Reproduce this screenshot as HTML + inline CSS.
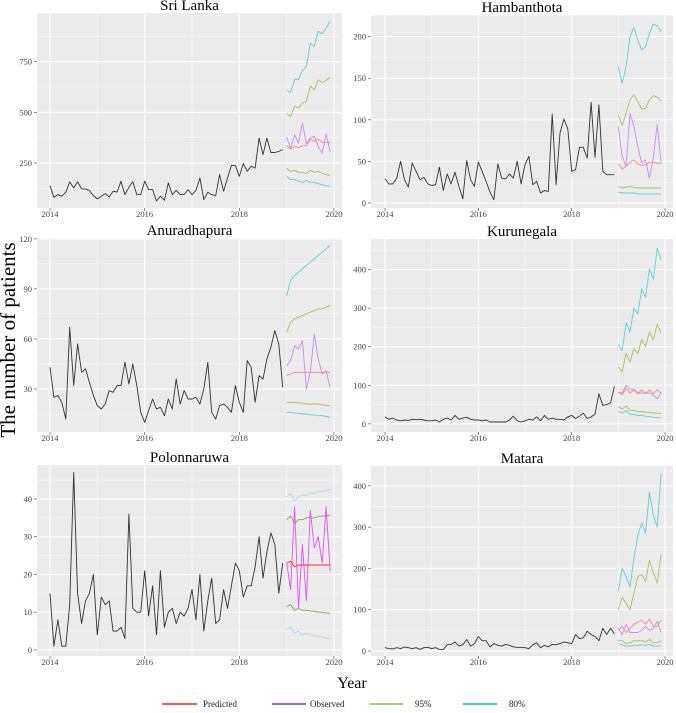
<!DOCTYPE html>
<html><head><meta charset="utf-8">
<style>
html,body{margin:0;padding:0;background:#fff;}
svg{display:block;font-family:"Liberation Serif",serif;}
</style></head>
<body>
<svg id="chart" width="676" height="713" viewBox="0 0 676 713" xmlns="http://www.w3.org/2000/svg">
<text transform="translate(15,340) rotate(-90)" text-anchor="middle" font-size="21" fill="#000">The number of patients</text>
<text x="352" y="688" text-anchor="middle" font-size="16" fill="#000">Year</text>
<g>
 <g><line x1="162" y1="704" x2="197" y2="704" stroke="#ff5a5a" stroke-width="2"/><text x="203" y="707" font-size="9" fill="#222">Predicted</text></g>
 <g><line x1="272" y1="704" x2="306" y2="704" stroke="#a868d8" stroke-width="2"/><text x="310" y="707" font-size="9" fill="#222">Observed</text></g>
 <g><line x1="370" y1="704" x2="403" y2="704" stroke="#a6d070" stroke-width="2"/><text x="415" y="707" font-size="9" fill="#222">95%</text></g>
 <g><line x1="463" y1="704" x2="497" y2="704" stroke="#40c8e8" stroke-width="2"/><text x="509" y="707" font-size="9" fill="#222">80%</text></g>
</g>
</svg>
<script>
// ---- data ----
const slHist=[138,81,94,86,106,157,127,157,122,122,115,89,73,86,99,83,111,107,160,94,130,158,94,94,160,119,119,63,86,66,152,94,115,94,94,119,94,115,176,70,106,94,89,193,111,176,238,238,184,247,209,234,225,373,291,373,302,302,307,316];
const slU80=[608,598,663,663,706,726,841,825,899,888,916,949];
const slU95=[493,480,530,521,546,554,631,611,660,647,657,673];
const slObs=[378,319,389,348,447,345,373,381,332,299,394,307];
const slPred=[335,319,332,327,335,335,368,357,368,352,352,352];
const slL95=[225,209,214,204,204,198,214,204,209,198,193,189];
const slL80=[184,168,168,160,155,163,155,155,148,143,138,135];

const haHist=[29,23,23,30,50,28,19,48,38,28,31,23,21,22,43,15,35,23,37,20,5,51,28,20,49,38,26,13,4,47,30,29,35,30,50,23,46,56,22,26,12,15,14,107,22,84,101,89,38,40,67,67,54,121,55,118,38,34,34,34];
const haU80=[164,144,164,200,211,196,184,188,204,215,213,206];
const haU95=[106,93,108,124,130,122,113,114,124,129,127,123];
const haObs=[92,56,44,108,92,68,48,52,30,54,94,48];
const haPred=[47,41,44,49,52,47,45,46,49,49,48,47];
const haL95=[20,18,19,20,19,18,18,18,18,18,18,18];
const haL80=[13,12,12,12,12,11,11,11,11,11,11,11];

const anHist=[43,25,26,22,12,67,32,57,40,42,34,26,20,18,21,29,28,32,32,46,33,45,32,16,10,17,24,18,19,14,24,18,36,21,29,24,24,25,21,30,46,16,12,20,21,19,16,32,22,16,47,43,22,38,36,48,55,65,57,31];
const anU80=[86,95,98,100,102,104,106,108,110,112,114,116];
const anU95=[64,70,72,73,74,75,76,77,78,78,79,80];
const anObs=[44,47,56,54,59,30,40,63,48,39,41,31];
const anPred=[38,39,40,40,40,40,40,40,40,40,40,40];
const anL95=[22,22,22,21.5,21.5,21,21,21,21,20.5,20,20];
const anL80=[16,16,15.5,15.5,15,15,14.5,14.5,14,14,13.5,13];

const kuHist=[18,12,15,10,8,10,9,12,11,12,10,8,8,10,5,12,15,10,22,12,15,17,12,10,10,8,10,5,5,5,5,5,10,20,8,5,8,12,10,18,8,22,12,15,12,12,10,18,22,14,20,28,14,18,25,78,48,50,55,97];
const kuU80=[205,190,262,238,300,285,350,328,402,375,455,425];
const kuU95=[148,135,183,160,195,182,218,200,238,218,258,236];
const kuObs=[82,80,100,90,90,80,80,80,80,75,65,80];
const kuPred=[82,75,92,80,88,78,88,78,88,78,88,80];
const kuL95=[45,38,47,35,35,32,32,30,30,28,28,26];
const kuL80=[33,28,35,25,24,22,22,20,19,17,16,15];

const poHist=[15,1,8,1,1,12,47,15,7,13,15,20,4,14,12,13,5,5,6,3,36,11,10,10,21,9,17,4,21,6,10,11,7,10,9,11,16,8,20,5,13,19,7,8,16,11,17,23,21,14,17,17,22,30,19,26,31,28,15,23];
const poU80=[40.5,41.5,39.5,40.5,41,41,41.5,41.5,42,42,42.3,42.5];
const poU95=[34.5,35.5,33.5,34.5,34.5,35,35,35,35.3,35.5,35.5,35.6];
const poObs=[23,16,38,11,28,13,37,27,30,23,38,21];
const poPred=[23,23.5,22,22.5,22.5,22.5,22.5,22.5,22.5,22.5,22.5,22.5];
const poL95=[11.5,12,10.5,11,10.5,10.5,10.3,10.2,10,10,9.8,9.7];
const poL80=[5.5,6,4.5,5,4,4.5,4,3.8,3.5,3.4,3.2,3];

const maHist=[8,6,5,8,6,10,8,6,8,4,8,9,6,8,4,4,15,16,22,12,15,28,12,18,35,25,25,10,18,14,12,16,14,10,9,9,8,6,15,20,8,14,10,16,15,18,22,20,18,40,30,32,48,40,35,25,55,40,55,42];
const maU80=[145,200,180,155,225,280,310,285,385,330,300,430];
const maU95=[100,130,115,100,140,180,185,168,220,190,165,235];
const maObs=[55,40,65,45,45,45,50,60,50,55,72,45];
const maPred=[50,60,45,55,65,70,75,65,78,60,60,75];
const maL95=[25,25,18,20,25,25,25,22,28,20,20,25];
const maL80=[18,15,12,12,14,14,15,14,16,12,12,12];

const xTicks=[2014,2016,2018,2020];
const xMinor=[2015,2017,2019];

const NS="http://www.w3.org/2000/svg";
const svg=document.getElementById('chart');
function mk(tag,attrs,parent){const e=document.createElementNS(NS,tag);for(const k in attrs)e.setAttribute(k,attrs[k]);(parent||svg).appendChild(e);return e;}

const panels=[
 {name:'sri-lanka',title:'Sri Lanka',box:[37,13,342,208],y:[28,990],ticks:[250,500,750],tb:10,hist:slHist,u80:slU80,u95:slU95,obs:slObs,pred:slPred,l95:slL95,l80:slL80},
 {name:'hambanthota',title:'Hambanthota',box:[371,15,673,208],y:[-6,226],ticks:[0,50,100,150,200],tb:12,hist:haHist,u80:haU80,u95:haU95,obs:haObs,pred:haPred,l95:haL95,l80:haL80},
 {name:'anuradhapura',title:'Anuradhapura',box:[37,238,342,432],y:[4.2,120.5],ticks:[30,60,90,120],tb:235,hist:anHist,u80:anU80,u95:anU95,obs:anObs,pred:anPred,l95:anL95,l80:anL80},
 {name:'kurunegala',title:'Kurunegala',box:[371,239,673,432],y:[-21,479],ticks:[0,100,200,300,400],tb:236,hist:kuHist,u80:kuU80,u95:kuU95,obs:kuObs,pred:kuPred,l95:kuL95,l80:kuL80},
 {name:'polonnaruwa',title:'Polonnaruwa',box:[37,465,342,656],y:[-1.6,49],ticks:[0,10,20,30,40],tb:462,hist:poHist,u80:poU80,u95:poU95,obs:poObs,pred:poPred,l95:poL95,l80:poL80,
  colors:{pred:'#ff2a2a',obs:'#e055e8',c95:'#8fa35a',c80:'#a8d8e8'}},
 {name:'matara',title:'Matara',box:[371,466,673,656],y:[-12,448],ticks:[0,100,200,300,400],tb:463,hist:maHist,u80:maU80,u95:maU95,obs:maObs,pred:maPred,l95:maL95,l80:maL80}
];
const defColors={pred:'#f58a80',obs:'#c98af5',c95:'#a8c255',c80:'#5bd0d8'};

panels.forEach(p=>{
 const [x0,y0,x1,y1]=p.box;
 const left=x0<200;
 const t0=left?50:385, t1=left?334:665;
 const X=t=>t0+(t-2014)*(t1-t0)/6;
 const Y=v=>y1-(v-p.y[0])*(y1-y0)/(p.y[1]-p.y[0]);
 const g=mk('g',{});
 
 
 const bg=mk('rect',{x:x0,y:y0,width:x1-x0,height:y1-y0,fill:'#ebebeb'},g);
 
 
 xMinor.forEach(t=>mk('line',{x1:X(t),x2:X(t),y1:y0,y2:y1,stroke:'#fff','stroke-width':0.5},g));
 const step=p.ticks[1]-p.ticks[0];
 for(let v=p.ticks[0]-step/2;v<=p.y[1];v+=step){if(v>=p.y[0])mk('line',{x1:x0,x2:x1,y1:Y(v),y2:Y(v),stroke:'#fff','stroke-width':0.5},g);}
 xTicks.forEach(t=>{
  mk('line',{x1:X(t),x2:X(t),y1:y0,y2:y1,stroke:'#fff','stroke-width':1},g);
  mk('line',{x1:X(t),x2:X(t),y1:y1,y2:y1+3,stroke:'#444','stroke-width':0.6},g);
  const tl=mk('text',{x:X(t),y:y1+9,'text-anchor':'middle','font-size':8.5,fill:'#444'},g);
  tl.textContent=t;
  
  
 });
 p.ticks.forEach(v=>{
  mk('line',{x1:x0,x2:x1,y1:Y(v),y2:Y(v),stroke:'#fff','stroke-width':1},g);
  mk('line',{x1:x0-3,x2:x0,y1:Y(v),y2:Y(v),stroke:'#444','stroke-width':0.6},g);
  const tl=mk('text',{x:x0-5,y:Y(v)+3,'text-anchor':'end','font-size':8.5,fill:'#444'},g);
  tl.textContent=v;
  
  
 });
 const ti=mk('text',{x:(x0+x1)/2,y:p.tb,'text-anchor':'middle','font-size':15,fill:'#000'},g);
 ti.textContent=p.title;
 
 
 const c=p.colors||defColors;
 function line(arr,start,color,nm,w){
  const pts=arr.map((v,i)=>X(start+i/12).toFixed(1)+','+Y(v).toFixed(1)).join(' ');
  const pl=mk('polyline',{points:pts,fill:'none',stroke:color,'stroke-width':w||0.9,'stroke-linejoin':'round'},g);
  
  
 }
 line(p.hist,2014,'#333','historical',0.9);
 line(p.u80,2019,c.c80,'upper-80');
 line(p.u95,2019,c.c95,'upper-95');
 line(p.l95,2019,c.c95,'lower-95');
 line(p.l80,2019,c.c80,'lower-80');
 line(p.obs,2019,c.obs,'observed');
 line(p.pred,2019,c.pred,'predicted');
});
</script>
</body></html>
